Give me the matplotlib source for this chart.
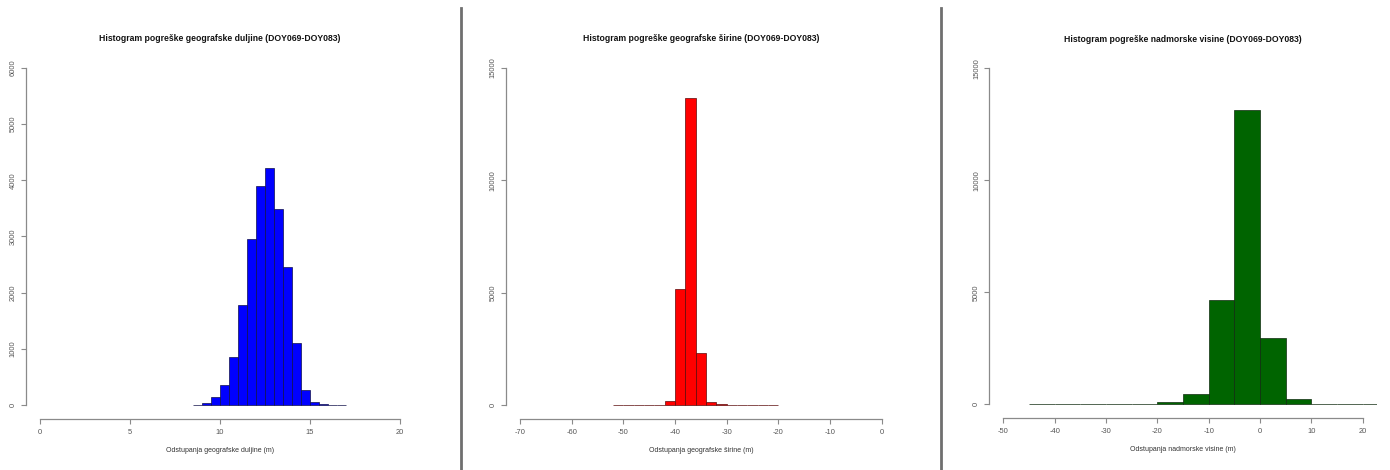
import matplotlib
matplotlib.use("Agg")
import matplotlib.pyplot as plt
import numpy as np
from matplotlib.lines import Line2D

plt.rcParams['font.family'] = ['Liberation Sans', 'DejaVu Sans']

# ---------------- data ----------------
titles = [
    "Histogram pogreške geografske duljine (DOY069-DOY083)",
    "Histogram pogreške geografske širine (DOY069-DOY083)",
    "Histogram pogreške nadmorske visine (DOY069-DOY083)",
]
xlabels = [
    "Odstupanja geografske duljine (m)",
    "Odstupanja geografske širine (m)",
    "Odstupanja nadmorske visine (m)",
]
colors = ["#0000FF", "#FF0000", "#006400"]
edge_colors = ["#10104a", "#5a0a0a", "#0f2a0f"]

lon_edges = [8.5, 9.0, 9.5, 10.0, 10.5, 11.0, 11.5, 12.0, 12.5, 13.0, 13.5,
             14.0, 14.5, 15.0, 15.5, 16.0, 16.5, 17.0]
lon_counts = [3, 30, 137, 356, 860, 1780, 2948, 3903, 4223, 3482, 2450,
              1097, 267, 47, 15, 2, 1]

lat_edges = [-52, -50, -48, -46, -44, -42, -40, -38, -36, -34, -32, -30,
             -28, -26, -24, -22, -20]
lat_counts = [1, 1, 2, 8, 20, 178, 5158, 13636, 2327, 118, 40, 15, 3, 1, 1, 1]

hgt_edges = [-45, -40, -35, -30, -25, -20, -15, -10, -5, 0, 5, 10, 15, 20, 25]
hgt_counts = [1, 1, 2, 10, 15, 89, 445, 4652, 13125, 2943, 223, 30, 8, 3]

x_ticks = [[0, 5, 10, 15, 20],
           [-70, -60, -50, -40, -30, -20, -10, 0],
           [-50, -40, -30, -20, -10, 0, 10, 20]]
y_ticks = [[0, 1000, 2000, 3000, 4000, 5000, 6000],
           [0, 5000, 10000, 15000],
           [0, 5000, 10000, 15000]]

edges_all = [lon_edges, lat_edges, hgt_edges]
counts_all = [lon_counts, lat_counts, hgt_counts]

# ---------------- figure ----------------
W, H = 1390, 470
fig = plt.figure(figsize=(W / 100, H / 100), dpi=100)
fig.patch.set_facecolor("white")

# axes rectangles in pixels (left, top, right, bottom)
rects = [(25.6, 54.5, 414.4, 418.5),
         (505.5, 54.2, 896.2, 418.5),
         (989.0, 54.9, 1377.1, 417.7)]

axis_col = "#8a8a8a"
label_col = "#555555"

for i in range(3):
    l, t, r, b = rects[i]
    ax = fig.add_axes([l / W, 1 - b / H, (r - l) / W, (b - t) / H])
    xt, yt = x_ticks[i], y_ticks[i]
    xr = xt[-1] - xt[0]
    yr = yt[-1] - yt[0]
    ax.set_xlim(xt[0] - 0.04 * xr, xt[-1] + 0.04 * xr)
    ax.set_ylim(yt[0] - 0.04 * yr, yt[-1] + 0.04 * yr)

    e = np.array(edges_all[i], dtype=float)
    c = np.array(counts_all[i], dtype=float)
    ax.hist(e[:-1], bins=e, weights=c, color=colors[i],
            edgecolor=edge_colors[i], linewidth=0.5)

    for s in ["top", "right"]:
        ax.spines[s].set_visible(False)
    ax.spines["bottom"].set_bounds(xt[0], xt[-1])
    ax.spines["left"].set_bounds(yt[0], yt[-1])
    for s in ["bottom", "left"]:
        ax.spines[s].set_color(axis_col)
        ax.spines[s].set_linewidth(0.9)

    ax.set_xticks(xt)
    ax.set_yticks(yt)
    ax.set_xticklabels([str(v) for v in xt])
    ax.set_yticklabels([str(v) for v in yt], rotation=90, va="center")
    ax.tick_params(axis="both", length=3.5, width=0.8, color=axis_col,
                   labelcolor=label_col, labelsize=5.4, pad=4)
    ax.tick_params(axis="y", pad=3)
    ax.set_xlabel(xlabels[i], fontsize=5.0, color="#333333", labelpad=8)
    ax.set_title(titles[i], fontsize=6.2, fontweight="bold", color="#111111",
                 pad=9.5)
    ax.patch.set_alpha(0)

# separator lines between panels
for xp in [460.5, 940.5]:
    fig.add_artist(Line2D([xp / W, xp / W], [0, 1 - 8 / H],
                          transform=fig.transFigure, color="#6f6f6f", lw=2))

fig.savefig("out.png", dpi=100, facecolor="white")
